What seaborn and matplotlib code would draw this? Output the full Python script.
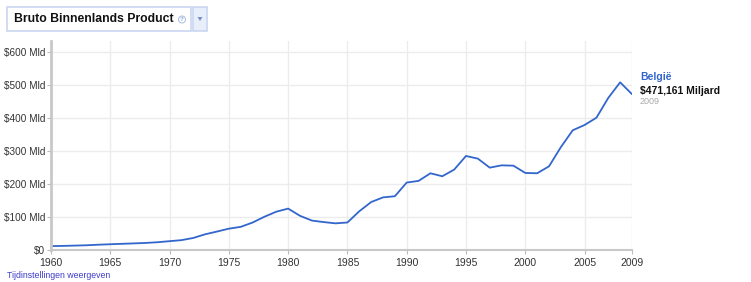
import matplotlib
matplotlib.use("Agg")
import matplotlib.pyplot as plt
import seaborn as sns
import pandas as pd
from matplotlib.patches import Rectangle, Polygon, Ellipse

years = list(range(1960, 2010))
gdp_billion = [11.7, 12.4, 13.3, 14.3, 16.0, 17.4, 18.7, 20.0, 21.4, 23.5,
               26.7, 29.8, 36.4, 47.5, 55.8, 64.5, 70.0, 83.0, 100.6, 115.8,
               125.2, 103.4, 89.0, 84.4, 80.6, 83.2, 117.1, 145.0, 159.1, 162.6,
               204.0, 209.0, 232.0, 223.0, 243.0, 284.3, 276.3, 249.0, 256.0, 255.0,
               233.0, 232.0, 253.0, 311.0, 362.0, 378.0, 400.0, 460.0, 507.0, 471.2]
x_ticks = [1960, 1965, 1970, 1975, 1980, 1985, 1990, 1995, 2000, 2005, 2009]
y_ticks = [0, 100, 200, 300, 400, 500, 600]
y_labels = ["$0", "$100 Mld", "$200 Mld", "$300 Mld", "$400 Mld", "$500 Mld", "$600 Mld"]
title = "Bruto Binnenlands Product"
series_name = "België"
last_value_label = "$471,161 Miljard"
last_year_label = "2009"
link_text = "Tijdinstellingen weergeven"

df = pd.DataFrame({"Jaar": years, "BBP": gdp_billion})

sns.set_style("white")
plt.rcParams["font.family"] = ["Liberation Sans", "DejaVu Sans"]

W, H = 751, 282
fig = plt.figure(figsize=(W / 100, H / 100), dpi=100)
ax = fig.add_axes([51 / W, 1 - 250 / H, (632 - 51) / W, (250 - 41) / H])

sns.lineplot(data=df, x="Jaar", y="BBP", ax=ax, color="#3366cc", linewidth=1.3)

ax.set_xlim(1960, 2009)
ax.set_ylim(0, 632)
ax.set_xticks(x_ticks)
ax.set_xticklabels([str(t) for t in x_ticks])
ax.set_yticks(y_ticks)
ax.set_yticklabels(y_labels)
ax.set_xlabel("")
ax.set_ylabel("")
ax.grid(True, color="#ececec", linewidth=1.0)
ax.set_axisbelow(True)
for s in ["top", "right"]:
    ax.spines[s].set_visible(False)
ax.spines["left"].set_color("#c8c8c8")
ax.spines["left"].set_linewidth(2.0)
ax.spines["bottom"].set_color("#c8c8c8")
ax.spines["bottom"].set_linewidth(1.5)
ax.tick_params(axis="y", which="both", left=True, length=3, width=0.8, color="#bbbbbb",
               labelsize=7.2, labelcolor="#333333", pad=1)
ax.tick_params(axis="x", which="both", bottom=True, length=3, width=0.8, color="#bbbbbb",
               labelsize=7.5, labelcolor="#333333", pad=2.5)

# right-side label
fig.text(640 / W, 1 - 77 / H, series_name, color="#3366cc", fontsize=7.5,
         fontweight="bold", va="center", ha="left")
fig.text(640 / W, 1 - 91 / H, last_value_label, color="#111111", fontsize=7.5,
         fontweight="bold", va="center", ha="left")
fig.text(640 / W, 1 - 102 / H, last_year_label, color="#aaaaaa", fontsize=6.5,
         va="center", ha="left")

# title box
box = Rectangle((7 / W, 1 - 31 / H), (191 - 7) / W, (31 - 7) / H, transform=fig.transFigure,
                facecolor="white", edgecolor="#c9d7f1", linewidth=1.2)
fig.patches.append(box)
btn = Rectangle((193 / W, 1 - 31 / H), (207 - 193) / W, (31 - 7) / H, transform=fig.transFigure,
                facecolor="#e8eefa", edgecolor="#c9d7f1", linewidth=1.2)
fig.patches.append(btn)
tri = Polygon([[197.5 / W, 1 - 17 / H], [202.5 / W, 1 - 17 / H], [200 / W, 1 - 21 / H]],
              closed=True, transform=fig.transFigure, facecolor="#7a8fc4", edgecolor="none")
fig.patches.append(tri)
fig.text(14 / W, 1 - 19 / H, title, color="#111111", fontsize=8.8, fontweight="bold",
         va="center", ha="left")
circ = Ellipse((182 / W, 1 - 19.5 / H), 7 / W, 7 / H, transform=fig.transFigure,
               facecolor="none", edgecolor="#a8bbe0", linewidth=0.7)
fig.patches.append(circ)
fig.text(182 / W, 1 - 19.5 / H, "?", color="#8fa5d6", fontsize=4.5, va="center",
         ha="center", fontweight="bold")

fig.text(7 / W, 1 - 276 / H, link_text, color="#3d3dcc", fontsize=6.3, va="center", ha="left")

fig.savefig("out.png", dpi=100)
